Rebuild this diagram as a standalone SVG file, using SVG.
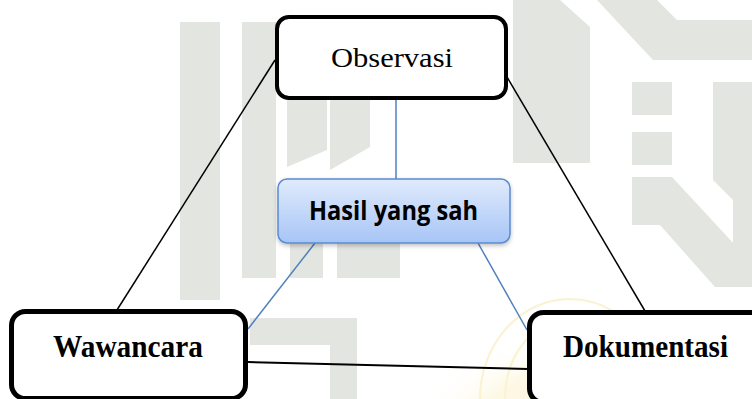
<svg xmlns="http://www.w3.org/2000/svg" width="752" height="399" viewBox="0 0 752 399">
<defs>
<linearGradient id="blueGrad" x1="0" y1="0" x2="0" y2="1">
<stop offset="0" stop-color="#e0ebfc"/>
<stop offset="1" stop-color="#a7c5f6"/>
</linearGradient>
<radialGradient id="emblem" cx="0.5" cy="0.85" r="0.6">
<stop offset="0" stop-color="#fbf3cc"/>
<stop offset="0.7" stop-color="#fdf8e4"/>
<stop offset="1" stop-color="#ffffff" stop-opacity="0"/>
</radialGradient>
<filter id="shadow" x="-10%" y="-10%" width="120%" height="130%">
<feDropShadow dx="0" dy="2" stdDeviation="2" flood-color="#000" flood-opacity="0.25"/>
</filter>
</defs>
<style>
.wm{fill:#e3e5e1}
.arc{fill:none;stroke:#faf2d0;stroke-width:2}
.box{fill:#ffffff;stroke:#000000}
.serif{font-family:"Liberation Serif","Times New Roman",serif;fill:#000}
.sans{font-family:"Open Sans","Noto Sans","Liberation Sans",sans-serif;font-weight:700;fill:#000}
.blk{stroke:#000;fill:none}
.blu{stroke:#4f81bd;stroke-width:1.5;fill:none}
</style>
<rect width="752" height="399" fill="#ffffff"/>
<g id="watermark">
<ellipse cx="570" cy="390" rx="140" ry="125" fill="url(#emblem)"/>
<path class="arc" d="M480 399 A90 100 0 0 1 660 399"/>
<path class="arc" d="M505 399 A65 80 0 0 1 635 399"/>
<path class="arc" d="M530 399 A40 55 0 0 1 610 399"/>
<rect class="wm" x="180" y="22" width="40" height="278"/>
<rect class="wm" x="242" y="22" width="34" height="256"/>
<path class="wm" d="M287 100 H327 V150 L287 167 Z"/>
<path class="wm" d="M330 100 H370 V147 L330 170 Z"/>
<rect class="wm" x="290" y="243" width="33" height="35"/>
<rect class="wm" x="337" y="243" width="63" height="35"/>
<path class="wm" d="M250 318 H357 V399 H330 V345 H250 Z"/>
<path class="wm" d="M513 0 H560 L590 27 V163 H513 Z"/>
<path class="wm" d="M597 0 H657 L677 20 H752 V60 H653 Z"/>
<rect class="wm" x="632" y="82" width="40" height="33"/>
<rect class="wm" x="632" y="132" width="40" height="33"/>
<path class="wm" d="M632 177 H672 L735 245 V287 H715 L660 225 H632 Z"/>
<path class="wm" d="M713 82 H752 V287 H733 V200 L713 180 Z"/>
</g>
<g id="connectors">
<line class="blk" x1="275" y1="60" x2="117" y2="310" stroke-width="1.5"/>
<line class="blk" x1="497" y1="60" x2="645" y2="311" stroke-width="1.5"/>
<line class="blk" x1="248" y1="362" x2="528" y2="369" stroke-width="2"/>
<line class="blu" x1="396" y1="100" x2="396" y2="179"/>
<line class="blu" x1="315" y1="243" x2="248" y2="329"/>
<line class="blu" x1="478" y1="243" x2="527" y2="330"/>
</g>
<g id="observasi">
<rect class="box" x="277" y="17" width="229" height="81" rx="12" stroke-width="4"/>
<text class="serif" x="331" y="67" font-size="28" textLength="122" lengthAdjust="spacingAndGlyphs">Observasi</text>
</g>
<g id="hasil">
<rect x="278" y="179" width="232" height="64" rx="9" fill="url(#blueGrad)" stroke="#5b8bd0" stroke-width="1.5" filter="url(#shadow)"/>
<text class="sans" x="309" y="220" font-size="27" textLength="169" lengthAdjust="spacingAndGlyphs">Hasil yang sah</text>
</g>
<g id="wawancara">
<rect class="box" x="11.5" y="311.5" width="234" height="87" rx="14" stroke-width="5"/>
<text class="serif" x="53" y="357" font-size="32" font-weight="700" textLength="150" lengthAdjust="spacingAndGlyphs">Wawancara</text>
</g>
<g id="dokumentasi">
<rect class="box" x="529.5" y="312.5" width="240" height="90" rx="14" stroke-width="5"/>
<text class="serif" x="563" y="357" font-size="32" font-weight="700" textLength="165" lengthAdjust="spacingAndGlyphs">Dokumentasi</text>
</g>
</svg>
